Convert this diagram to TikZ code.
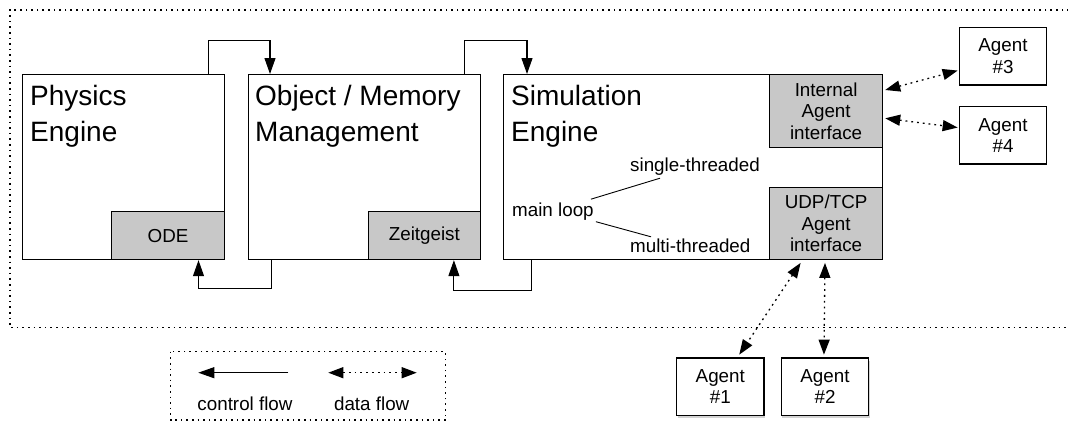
\documentclass[tikz,border=0pt]{standalone}
\usepackage{fontspec}
\setmainfont{Liberation Sans}
\usetikzlibrary{arrows.meta,calc,shadows}
\newcommand{\smalltxt}{\fontsize{18.8}{21.5}\selectfont}
\newcommand{\bigtxt}{\fontsize{28}{36}\selectfont}
\definecolor{partgray}{RGB}{200,200,200}
\begin{document}
\begin{tikzpicture}[x=1pt,y=-1pt,
  box/.style 2 args={draw, line width=1.2pt, fill=white, anchor=north west,
    inner sep=0pt, minimum width=#1, minimum height=#2},
  part/.style 2 args={box={#1}{#2}, fill=partgray, align=center, font=\smalltxt},
  agent/.style={box={87.5pt}{57.5pt}, anchor=center, align=center, font=\smalltxt},
  title/.style={anchor=base west, inner sep=0pt, align=left, font=\bigtxt},
  note/.style={anchor=base west, inner sep=0pt, font=\smalltxt},
  ctrl/.style={line width=1.1pt, -{Triangle[length=16pt,width=11pt]}},
  data/.style={line width=1.3pt, dash pattern=on 1.8pt off 4pt,
    {Triangle[length=15pt,width=11pt]}-{Triangle[length=15pt,width=11pt]}},
  frame/.style={line width=1.1pt, dash pattern=on 1.6pt off 4pt},
  shadowed/.style={drop shadow={shadow xshift=1pt, shadow yshift=-3pt, opacity=0.35}}
]
\useasboundingbox (0,0) rectangle (1068,423);

% system boundary
\draw[frame] (1080,10) -- (10,10) -- (10,327.5) -- (1080,327.5);

% the three engines
\node[box={202.5pt}{185pt}] (phys) at (21.5,74) {};
\node[box={232pt}{185pt}] (obj) at (248,74) {};
\node[box={379pt}{185pt}] (sim) at (503,74) {};

\node[part={113pt}{48pt}, anchor=south east] (ode) at (phys.south east) {ODE};
\node[part={112.5pt}{48pt}, anchor=south east] (zeit) at (obj.south east) {Zeitgeist};
\node[part={113pt}{72.7pt}, anchor=north east] (int) at (sim.north east) {Internal\\Agent\\interface};
\node[part={113pt}{72.3pt}, anchor=south east] (udp) at (sim.south east) {UDP/TCP\\Agent\\interface};

% titles (anchored at the baseline of their second line)
\node[title] (physt) at (30,141.7) {Physics\\Engine};
\node[title] (objt) at (255,141.7) {Object / Memory\\Management};
\node[title] (simt) at (511,141.7) {Simulation\\Engine};

% main loop variants
\node[note] (mainloop) at (512,216.7) {main loop};
\node[note] (single) at (630,171.7) {single-threaded};
\node[note] (multi) at (630,252.3) {multi-threaded};
\draw[line width=0.9pt] ($(mainloop.base east)+(-3,-17.5)$) -- ($(single.base west)+(30,6.5)$);
\draw[line width=0.9pt] ($(mainloop.base east)+(2,5)$) -- ($(multi.base west)+(21,-15.5)$);

% agents
\node[agent] (a3) at (1003,56.2) {Agent\\\#3};
\node[agent] (a4) at (1003,135.3) {Agent\\\#4};
\node[agent, shadowed] (a1) at (720.3,386.7) {Agent\\\#1};
\node[agent, shadowed] (a2) at (825,386.7) {Agent\\\#2};

% control flow
\draw[ctrl] ($(phys.north east)+(-16.3,0)$) -- ++(0,-33.3) -| ($(obj.north west)+(22,0)$);
\draw[ctrl] ($(obj.north east)+(-17,0)$) -- ++(0,-33.3) -| ($(sim.north west)+(24,0)$);
\draw[ctrl] ($(obj.south west)+(23.7,0)$) -- ++(0,28.3) -| ($(ode.south east)+(-26.7,0)$);
\draw[ctrl] ($(sim.south west)+(28.7,0)$) -- ++(0,30.3) -| ($(zeit.south east)+(-27.3,0)$);

% data flow
\draw[data] ($(int.north east)+(2,16)$) -- ($(a3.south west)+(-1,-15)$);
\draw[data] ($(int.north east)+(2,44.3)$) -- ($(a4.north west)+(-1,21.6)$);
\draw[data] ($(udp.south west)+(31.6,2.7)$) -- ($(a1.north west)+(63.3,-2.7)$);
\draw[data] ($(udp.south west)+(56,2.7)$) -- ($(a2.north west)+(43.3,-2.7)$);

% legend
\draw[frame] (170.7,351.7) rectangle (445.7,420);
\coordinate (c1) at (288.3,372.7);
\coordinate (c2) at (198.3,372.7);
\coordinate (d1) at (328.3,372.7);
\coordinate (d2) at (416.7,372.7);
\draw[ctrl] (c1) -- (c2);
\draw[data] (d1) -- (d2);
\node[font=\smalltxt, anchor=base, inner sep=0pt] (lc) at (245,410.7) {control flow};
\node[font=\smalltxt, anchor=base, inner sep=0pt] (ld) at (371.7,410.7) {data flow};
\end{tikzpicture}
\end{document}
